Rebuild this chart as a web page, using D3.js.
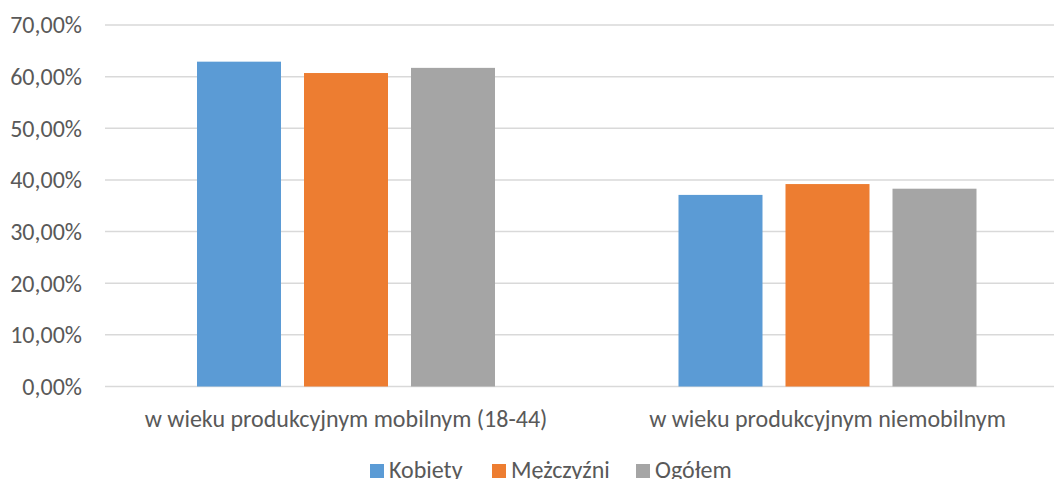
<!DOCTYPE html>
<html>
<head>
<meta charset="utf-8">
<script src="https://cdn.jsdelivr.net/npm/d3@7"></script>
<style>
  html, body { margin: 0; padding: 0; background: #fff; }
  svg { display: block; font-family: Carlito, Lato, sans-serif; }
</style>
</head>
<body>
<div id="chart"></div>
<script>
// data
const categories = ["w wieku produkcyjnym mobilnym (18-44)", "w wieku produkcyjnym niemobilnym"];
const seriesNames = ["Kobiety", "Mężczyźni", "Ogółem"];
const seriesColors = ["#5b9bd5", "#ed7d31", "#a5a5a5"];
const kobiety = [0.629, 0.371];
const mezczyzni = [0.607, 0.392];
const ogolem = [0.617, 0.383];
const yTicks = [0, 0.1, 0.2, 0.3, 0.4, 0.5, 0.6, 0.7];

const seriesValues = [kobiety, mezczyzni, ogolem];

const width = 1054, height = 479;
const textColor = "#595959";
const gridColor = "#d9d9d9";
const fontSize = "24px";

const pl = d3.formatLocale({ decimal: ",", thousands: " ", grouping: [3], currency: ["", " zł"] });
const fmt = pl.format(".2%");

const svg = d3.select("#chart").append("svg")
    .attr("width", width)
    .attr("height", height);

// the plot area in the original runs past the right edge of the picture
const x0 = d3.scaleBand()
    .domain(categories)
    .range([105.25, 1068.25]);

const groupW = 298;
const x1 = d3.scaleBand()
    .domain(seriesNames)
    .range([(x0.step() - groupW) / 2, (x0.step() + groupW) / 2])
    .paddingInner(0.215);

const y = d3.scaleLinear()
    .domain([0, 0.7])
    .range([386.5, 25]);

// gridlines
svg.append("g")
    .selectAll("line")
    .data(yTicks)
    .join("line")
    .attr("x1", 105)
    .attr("x2", width)
    .attr("y1", d => y(d))
    .attr("y2", d => y(d))
    .attr("stroke", gridColor)
    .attr("stroke-width", 1.5);

// y tick labels
svg.append("g")
    .selectAll("text")
    .data(yTicks)
    .join("text")
    .attr("x", 82)
    .attr("y", d => y(d))
    .attr("dy", "0.35em")
    .attr("text-anchor", "end")
    .attr("fill", textColor)
    .style("font-size", fontSize)
    .text(d => fmt(d));

// bars
const rows = [];
categories.forEach((c, i) => {
    seriesNames.forEach((s, j) => {
        rows.push({ cat: c, series: s, value: seriesValues[j][i], color: seriesColors[j] });
    });
});

svg.append("g")
    .selectAll("rect")
    .data(rows)
    .join("rect")
    .attr("x", d => x0(d.cat) + x1(d.series))
    .attr("y", d => y(d.value))
    .attr("width", x1.bandwidth())
    .attr("height", d => y(0) - y(d.value))
    .attr("fill", d => d.color);

// category labels
svg.append("g")
    .selectAll("text")
    .data(categories)
    .join("text")
    .attr("x", d => x0(d) + x0.bandwidth() / 2)
    .attr("y", 427)
    .attr("text-anchor", "middle")
    .attr("fill", textColor)
    .style("font-size", fontSize)
    .text(d => d);

// legend (cut off at the bottom edge, as in the original)
const legendX = [370, 492, 636];
const legend = svg.append("g")
    .selectAll("g")
    .data(seriesNames)
    .join("g")
    .attr("transform", (d, i) => `translate(${legendX[i]},464)`);

legend.append("rect")
    .attr("width", 14)
    .attr("height", 14)
    .attr("fill", (d, i) => seriesColors[i]);

legend.append("text")
    .attr("x", 19)
    .attr("y", 14)
    .attr("fill", textColor)
    .style("font-size", fontSize)
    .text(d => d);
</script>
</body>
</html>
